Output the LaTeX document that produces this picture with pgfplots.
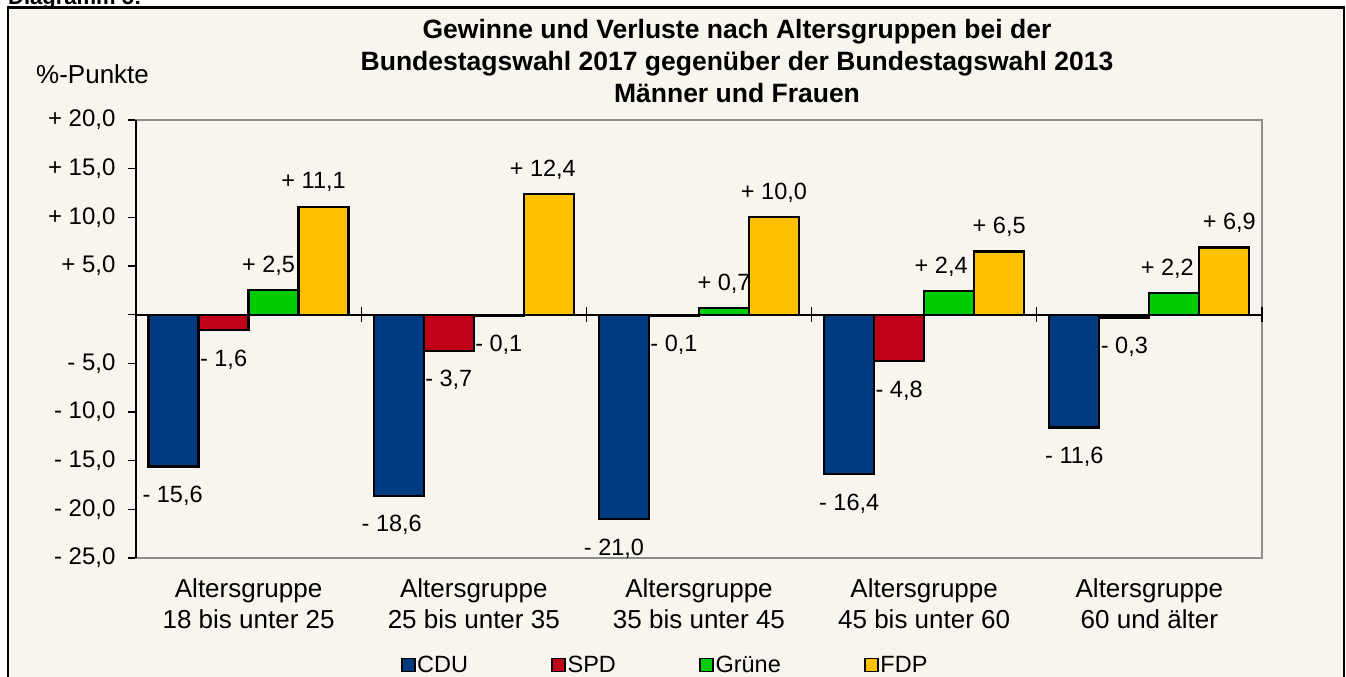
\documentclass[border=0pt]{standalone}
\usepackage{fontspec}
\setmainfont{Liberation Sans}
\usepackage{pgfplots}
\pgfplotsset{compat=1.18}
\usepackage{pgfplotstable}
\definecolor{cream}{RGB}{247,245,237}
\definecolor{cducol}{RGB}{0,58,128}
\definecolor{spdcol}{RGB}{192,0,24}
\definecolor{gruenecol}{RGB}{0,204,0}
\definecolor{fdpcol}{RGB}{255,192,0}
\definecolor{framegray}{RGB}{140,140,140}

\pgfplotstableread[col sep=semicolon]{
x;y;lab;dx;dy
0;-15.6;- 15,6;-1;-28
1;-18.6;- 18,6;-7;-28
2;-21.0;- 21,0;-10;-28
3;-16.4;- 16,4;0;-28
4;-11.6;- 11,6;0;-28
}\tabCDU
\pgfplotstableread[col sep=semicolon]{
x;y;lab;dx;dy
0;-1.6;- 1,6;0;-28
1;-3.7;- 3,7;0;-28
2;-0.1;- 0,1;0;-28
3;-4.8;- 4,8;0;-28
4;-0.3;- 0,3;0;-28
}\tabSPD
\pgfplotstableread[col sep=semicolon]{
x;y;lab;dx;dy
0;2.5;+ 2,5;-5;26
1;-0.1;- 0,1;0;-28
2;0.7;+ 0,7;0;26
3;2.4;+ 2,4;-8;26
4;2.2;+ 2,2;-7;26
}\tabGRUENE
\pgfplotstableread[col sep=semicolon]{
x;y;lab;dx;dy
0;11.1;+ 11,1;-10;26
1;12.4;+ 12,4;-6;26
2;10.0;+ 10,0;0;26
3;6.5;+ 6,5;0;26
4;6.9;+ 6,9;5;26
}\tabFDP

\pgfplotsset{
  sqlegend/.style={legend image code/.code={%
    \draw[##1,draw=black,line width=1.6pt] (0pt,-6.5pt) rectangle (13pt,6.5pt);}},
  barlab/.style={nodes near coords, point meta=explicit symbolic,
    visualization depends on={\thisrow{dx} \as \dx},
    visualization depends on={\thisrow{dy} \as \dy},
    every node near coord/.append style={font=\fontsize{23.5}{27}\selectfont, text depth=0pt, inner sep=0pt, anchor=center, xshift=\dx, yshift=\dy}},
}

\begin{document}
\begin{tikzpicture}[x=1pt,y=1pt]
\useasboundingbox (0,0) rectangle (1346,-677);
\clip (0,0) rectangle (1346,-677);
\fill[white] (0,0) rectangle (1346,-677);
\fill[cream] (8,-7.5) rectangle (1344,-700);
\draw[black,line width=2.2pt] (8,-700) -- (8,-7.5) -- (1344,-7.5) -- (1344,-700);
\node[anchor=base west,inner sep=0pt,font=\fontsize{22}{26}\selectfont\bfseries] at (8,-4.5) {Diagramm 5:};

\begin{axis}[
  at={(136pt,-558pt)}, anchor=south west,
  width=1126pt, height=438pt, scale only axis,
  xmin=-0.5, xmax=4.5, ymin=-25, ymax=20,
  ybar=0pt, bar width=50pt,
  axis line style={framegray, line width=2pt},
  xtick={0,1,2,3,4},
  xticklabels={{Altersgruppe\\18 bis unter 25},{Altersgruppe\\25 bis unter 35},{Altersgruppe\\35 bis unter 45},{Altersgruppe\\45 bis unter 60},{Altersgruppe\\60 und älter}},
  xticklabel style={align=center, font=\fontsize{26}{31.5}\selectfont, yshift=-9pt},
  major x tick style={draw=none},
  ytick={-25,-20,-15,-10,-5,0,5,10,15,20},
  yticklabels={{- 25,0},{- 20,0},{- 15,0},{- 10,0},{- 5,0},{},{+ 5,0},{+ 10,0},{+ 15,0},{+ 20,0}},
  yticklabel style={font=\fontsize{24}{28}\selectfont, xshift=-9pt},
  ytick pos=left, xtick pos=bottom,
  tick align=outside, major tick length=8pt,
  major y tick style={black, line width=1.3pt},
  legend columns=4,
  legend style={at={(0.2325,-0.2443)}, anchor=west, draw=none, fill=none,
    font=\fontsize{23.5}{27}\selectfont,
    nodes={inner xsep=1.5pt, inner ysep=0pt},
    /tikz/every even column/.append style={column sep=82pt}},
  clip=false,
]
\addplot[fill=cducol, draw=black, line width=2.2pt, sqlegend, barlab] table[x=x,y=y,meta=lab]{\tabCDU};
\addplot[fill=spdcol, draw=black, line width=2.2pt, sqlegend, barlab] table[x=x,y=y,meta=lab]{\tabSPD};
\addplot[fill=gruenecol, draw=black, line width=2.2pt, sqlegend, barlab] table[x=x,y=y,meta=lab]{\tabGRUENE};
\addplot[fill=fdpcol, draw=black, line width=2.2pt, sqlegend, barlab] table[x=x,y=y,meta=lab]{\tabFDP};
\legend{CDU,SPD,Grüne,FDP}
\end{axis}

\begin{axis}[
  at={(136pt,-558pt)}, anchor=south west,
  width=1126pt, height=438pt, scale only axis,
  xmin=-0.5, xmax=4.5, ymin=-25, ymax=20,
  axis x line*=middle, axis y line*=left,
  x axis line style={black, line width=1.8pt, -},
  y axis line style={black, line width=2pt, -},
  xtick={0.5,1.5,2.5,3.5,4.5}, xticklabels={},
  ytick=\empty,
  tick align=center, major tick length=15pt,
  major x tick style={black, line width=1.2pt},
]
\end{axis}

\begin{scope}[every node/.style={anchor=base, inner sep=0pt, font=\fontsize{26.5}{31}\selectfont\bfseries}]
\node at (737,-39) {Gewinne und Verluste nach Altersgruppen bei der};
\node at (737,-70.5) {Bundestagswahl 2017 gegenüber der Bundestagswahl 2013};
\node at (737,-102) {Männer und Frauen};
\end{scope}
\node[anchor=base west, inner sep=0pt, font=\fontsize{26}{31}\selectfont] at (36,-83) {\%-Punkte};
\end{tikzpicture}
\end{document}
